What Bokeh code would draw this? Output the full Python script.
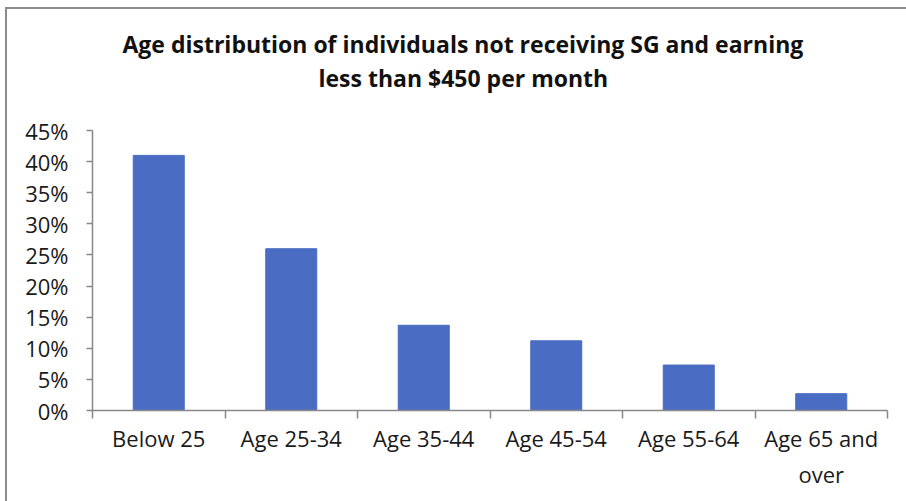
from bokeh.plotting import figure
from bokeh.models import Range1d, FixedTicker, Title, ColumnDataSource
from bokeh.embed import file_html
from bokeh.resources import INLINE

categories = ["Below 25", "Age 25-34", "Age 35-44", "Age 45-54", "Age 55-64", "Age 65 and\nover"]
values = [41.0, 26.0, 13.7, 11.2, 7.3, 2.7]
y_ticks = [0, 5, 10, 15, 20, 25, 30, 35, 40, 45]
title_lines = ["Age distribution of individuals not receiving SG and earning",
               "less than $450 per month"]

W, H = 906, 501
LEFT, TOP, BOTTOM = 92, 130, 91
p = figure(width=W, height=H, output_backend="svg", toolbar_location=None,
           x_range=Range1d(0, len(categories)), y_range=Range1d(0, 45),
           min_border_left=LEFT, min_border_right=19, min_border_top=TOP, min_border_bottom=BOTTOM)
p.background_fill_color = None
p.border_fill_color = None
p.outline_line_color = None
p.grid.visible = False
# chart's outer border (left and top edges visible in the scan)
p.styles = {
    "background": "linear-gradient(#8c8c8c,#8c8c8c) 5px 7px / 2px 100% no-repeat, "
                  "linear-gradient(#8c8c8c,#8c8c8c) 5px 7px / 100% 2px no-repeat, white"
}

xs = [i + 0.5 for i in range(len(categories))]
src = ColumnDataSource(dict(x=xs, top=values))
p.vbar(x="x", top="top", width=0.385, bottom=0, source=src,
       fill_color="#4a6cc2", line_color="#4a6cc2")

font = "Open Sans"
# x axis
xa = p.xaxis[0]
xa.ticker = FixedTicker(ticks=xs, minor_ticks=list(range(len(categories) + 1)))
xa.major_label_overrides = {x: c for x, c in zip(xs, categories)}
xa.major_tick_line_color = None
xa.major_tick_out = 0
xa.major_tick_in = 0
xa.minor_tick_out = 8
xa.minor_tick_in = 0
xa.minor_tick_line_color = "#888888"
xa.minor_tick_line_width = 1.5
xa.axis_line_color = "#888888"
xa.axis_line_width = 1.5
xa.major_label_standoff = 4
xa.major_label_text_font = font
xa.major_label_text_font_size = "22px"
xa.major_label_text_color = "#1a1a1a"

# y axis
ya = p.yaxis[0]
ya.ticker = FixedTicker(ticks=y_ticks, minor_ticks=[])
ya.major_label_overrides = {t: f"{t}%" for t in y_ticks}
ya.major_tick_out = 6
ya.major_tick_in = 0
ya.major_tick_line_color = "#888888"
ya.major_tick_line_width = 1.5
ya.minor_tick_line_color = None
ya.axis_line_color = "#888888"
ya.axis_line_width = 1.5
ya.major_label_standoff = 18
ya.major_label_text_font = font
ya.major_label_text_font_size = "22px"
ya.major_label_text_color = "#1a1a1a"

# spacer between the title and the plot area
p.add_layout(Title(text=" ", standoff=3, text_font=font, text_font_size="23px"), "above")
# title: two lines above the frame (last added sits highest)
for t, off in zip(reversed(title_lines), [226, 30]):
    p.add_layout(Title(text=t, align="left", offset=off, standoff=0,
                       text_font=font, text_font_style="bold", text_font_size="23px",
                       text_color="#111111"), "above")

open("out.html", "w").write(file_html(p, INLINE))
